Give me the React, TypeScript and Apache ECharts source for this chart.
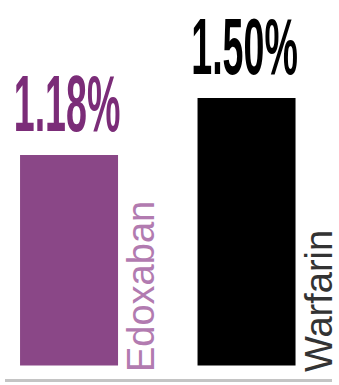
import React, { useEffect, useRef } from "react";
import * as echarts from "echarts";

const categories = ["Edoxaban", "Warfarin"];
const rates = [1.18, 1.5];
const valueLabels = ["1.18%", "1.50%"];

const barColors = ["#8a4787", "#000000"];
const valueLabelColors = ["#7b2c78", "#000000"];
const nameLabelColors = ["#b27bb0", "#333333"];

export default function App() {
  const ref = useRef<HTMLDivElement>(null);
  useEffect(() => {
    if (!ref.current) return;
    const chart = echarts.init(ref.current, null, { renderer: "svg" });
    chart.setOption({
      animation: false,
      backgroundColor: "#ffffff",
      grid: { left: 0, right: 0, top: 0, bottom: 7 },
      xAxis: {
        type: "value",
        min: -0.389,
        max: 1.521,
        show: false,
        splitLine: { show: false },
      },
      yAxis: {
        type: "value",
        min: -0.07,
        max: 2.05,
        show: false,
        splitLine: { show: false },
      },
      graphic: [
        {
          type: "rect",
          shape: { x: 5, y: 379, width: 327, height: 3 },
          style: { fill: "#c4c4c4" },
          z: 1,
        },
      ],
      series: [
        {
          type: "bar",
          barWidth: 98,
          z: 2,
          data: rates.map((v, i) => ({ value: [i, v], itemStyle: { color: barColors[i] } })),
        },
        {
          type: "custom",
          z: 3,
          data: rates.map((v, i) => [i, v]),
          renderItem: (params: any, api: any) => {
            const i = api.value(0);
            const v = api.value(1);
            const top = api.coord([i, v]);
            const base = api.coord([i, -0.07]);
            return {
              type: "group",
              children: [
                {
                  type: "text",
                  x: top[0] - 2,
                  y: top[1] - 20,
                  scaleX: 0.47,
                  style: {
                    text: valueLabels[i],
                    fill: valueLabelColors[i],
                    font: "bold 80px 'Liberation Sans', Arial, sans-serif",
                    lineHeight: 64,
                    align: "center",
                    verticalAlign: "bottom",
                  },
                },
                {
                  type: "text",
                  x: top[0] + 72,
                  y: base[1] - 6,
                  rotation: Math.PI / 2,
                  style: {
                    text: categories[i],
                    fill: nameLabelColors[i],
                    font: "38px 'Liberation Sans', Arial, sans-serif",
                    align: "left",
                    verticalAlign: "middle",
                  },
                },
              ],
            };
          },
        },
      ],
    });
    return () => chart.dispose();
  }, []);
  return (
    <div
      ref={ref}
      style={{ position: "fixed", left: 0, top: 0, width: 339, height: 385 }}
    />
  );
}
